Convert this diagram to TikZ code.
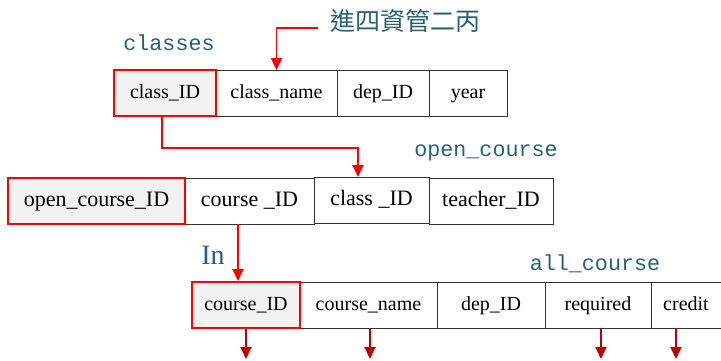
\documentclass[tikz,border=0pt]{standalone}
\usepackage{fontspec}
\setmainfont{Liberation Serif}
\newfontfamily\monofnt{Liberation Mono}
\newfontfamily\cjkfnt{Noto Sans CJK TC}
\usetikzlibrary{arrows.meta}
\definecolor{teal1}{HTML}{2B6070}
\definecolor{red1}{HTML}{FF0000}
\definecolor{red2}{HTML}{C00000}
\definecolor{keyfill}{HTML}{F2F2F2}
\begin{document}
\begin{tikzpicture}[x=1pt,y=-1pt,
  cell/.style={draw=black!80,line width=0.8pt,rectangle,inner sep=0pt,minimum height=46pt,text height=14pt,text depth=4pt,font=\fontsize{20}{20}\selectfont},
  bigcell/.style={cell,text height=15pt,text depth=4pt,font=\fontsize{22}{22}\selectfont},
  keycell/.style={draw=red1,line width=2pt,fill=keyfill},
  tlabel/.style={text=teal1,inner sep=0pt,font=\monofnt\fontsize{21.7}{22}\selectfont},
  link/.style={draw=red1,line width=1.8pt,-{Triangle[length=12pt,width=11pt]}},
  outlink/.style={draw=red2,line width=1.8pt,-{Triangle[length=12pt,width=11pt]}}]
\useasboundingbox (0,0) rectangle (721,361);
% row 1: classes
\node[cell,minimum width=121pt] (cname) at (276.5,93.5) {class\_name};
\node[cell,minimum width=92pt] (cdep) at (383,93.5) {dep\_ID};
\node[cell,minimum width=78pt] (cyear) at (468,93.5) {year};
\node[cell,keycell,minimum width=102pt] (cid) at (165,93.5) {class\_ID};
% row 2: open_course
\node[bigcell,minimum width=129pt] (occourse) at (249.5,201) {course \_ID};
\node[bigcell,minimum width=115pt] (occlass) at (371.5,200) {class \_ID};
\node[bigcell,minimum width=124pt] (octeacher) at (491,201) {teacher\_ID};
\node[bigcell,keycell,minimum width=177pt] (ocid) at (96.5,201) {open\_course\_ID};
% row 3: all_course
\node[cell,minimum width=137pt] (acname) at (368.5,305) {course\_name};
\node[cell,minimum width=108pt] (acdep) at (491,305) {dep\_ID};
\node[cell,minimum width=106pt] (acreq) at (598,305) {required};
\node[cell,minimum width=70pt] (accredit) at (686,305) {credit};
\node[cell,keycell,minimum width=108pt] (acid) at (246,305) {course\_ID};
% labels
\node[tlabel] (lclasses) at (169,43) {classes};
\node[tlabel] (lopen) at (486,153) {open\_course};
\node[tlabel] (lall) at (595,264) {all\_course};
\node[text=teal1,inner sep=0pt,font=\fontsize{28}{28}\selectfont] (lin) at (213,255) {In};
\node[text=teal1,inner sep=0pt,font=\cjkfnt\fontsize{25}{25}\selectfont,anchor=west] (lcls) at (330,21) {進四資管二丙};
% connectors
\draw[link] ([xshift=-12pt,yshift=-7pt]lcls.west) -| (cname.north);
\draw[link] ([xshift=-3pt]cid.south) |- (358,148) -- (358,177) coordinate (occtop);
\draw[link] ([xshift=-11.5pt]occourse.south) -- ([xshift=-8pt]acid.north);
\coordinate (e1) at (246,359);
\coordinate (e2) at (370,359);
\coordinate (e3) at (601,359);
\coordinate (e4) at (676,359);
\draw[outlink] (acid.south) -- (e1);
\draw[outlink] ([xshift=1.5pt]acname.south) -- (e2);
\draw[outlink] ([xshift=3pt]acreq.south) -- (e3);
\draw[outlink] ([xshift=-10pt]accredit.south) -- (e4);
\end{tikzpicture}
\end{document}
